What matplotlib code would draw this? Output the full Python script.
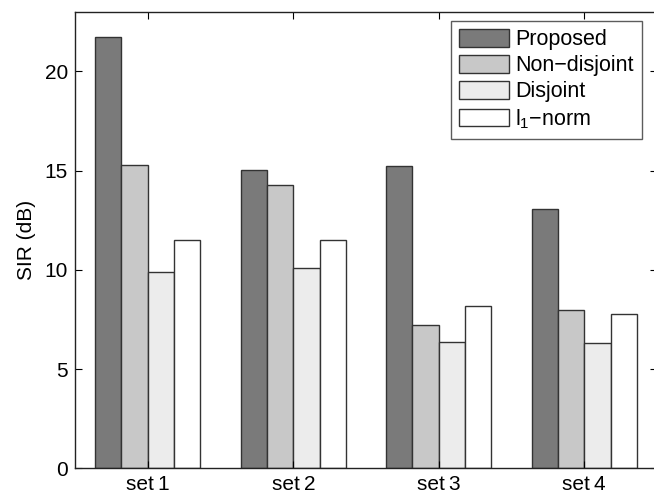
import numpy as np
import matplotlib
matplotlib.use("Agg")
import matplotlib.pyplot as plt

plt.rcParams['font.family'] = ['Liberation Sans', 'DejaVu Sans']
plt.rcParams['mathtext.fontset'] = 'custom'
plt.rcParams['mathtext.rm'] = 'Liberation Sans'
plt.rcParams['mathtext.it'] = 'Liberation Sans'

categories = ["set\u20091", "set\u20092", "set\u20093", "set\u20094"]
series_names = ["Proposed", "Non\u2212disjoint", "Disjoint", "l$_\\mathregular{1}$\u2212norm"]
proposed = [21.74, 15.05, 15.21, 13.07]
non_disjoint = [15.26, 14.26, 7.20, 7.97]
disjoint = [9.88, 10.10, 6.36, 6.32]
l1_norm = [11.52, 11.49, 8.17, 7.78]
yticks = [0, 5, 10, 15, 20]

series = [proposed, non_disjoint, disjoint, l1_norm]
colors = ["#7a7a7a", "#c8c8c8", "#ececec", "#ffffff"]

fig = plt.figure(figsize=(6.54, 4.95), dpi=100)
ax = fig.add_axes([75 / 654, 26.7 / 495, 582 / 654, 456.6 / 495])

x = np.arange(1, len(categories) + 1)
width = 0.181
for i, (vals, col, name) in enumerate(zip(series, colors, series_names)):
    ax.bar(x + (i - 1.5) * width, vals, width, color=col, edgecolor="#333333",
           linewidth=1.0, label=name)

ax.set_xlim(0.5, 4.5)
ax.set_ylim(0, 23)
ax.set_xticks(x)
ax.set_xticklabels(categories)
ax.set_yticks(yticks)
ax.tick_params(direction="in", length=5, width=0.8, labelsize=15,
               top=True, right=True, pad=5)
for sp in ax.spines.values():
    sp.set_linewidth(1.0)
    sp.set_color("#222222")
ax.set_ylabel("SIR (dB)", fontsize=15, labelpad=6)

leg = ax.legend(loc="upper right", bbox_to_anchor=(0.974, 0.980), borderaxespad=0,
                fontsize=15.5, frameon=True, fancybox=False, handlelength=2.3,
                handleheight=0.88, handletextpad=0.3, labelspacing=0.22,
                borderpad=0.38)
leg.get_frame().set_edgecolor("#333333")
leg.get_frame().set_linewidth(1.0)

fig.savefig("out.png", dpi=100)
